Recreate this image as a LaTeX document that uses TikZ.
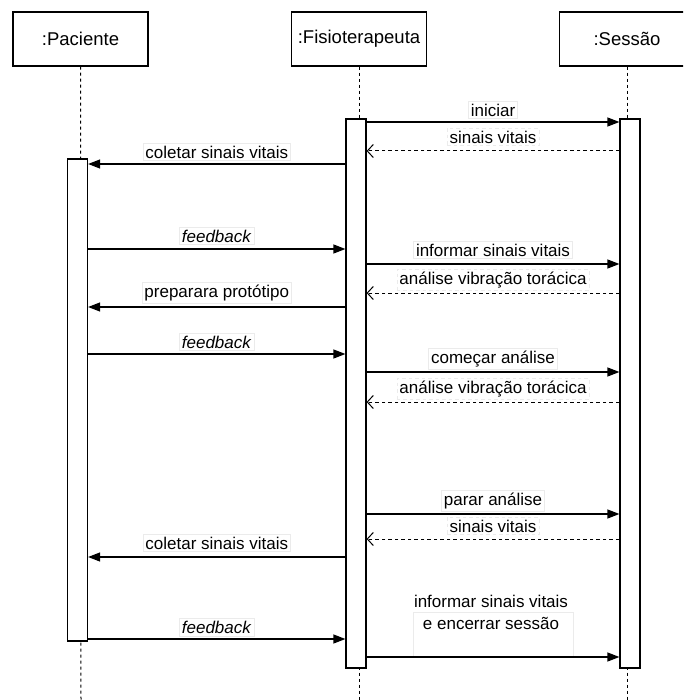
\documentclass[tikz,border=0pt]{standalone}
\usepackage{fontspec}
\setmainfont{Liberation Sans}
\usetikzlibrary{arrows.meta}
\begin{document}
\begin{tikzpicture}[x=1pt,y=-1pt,
  head/.style={draw, line width=1.2pt, minimum width=135pt, minimum height=54pt, inner sep=0pt, font=\fontsize{18.5}{22}\selectfont},
  bar/.style={draw, fill=white, line width=1.2pt, minimum width=20pt, inner sep=0pt},
  life/.style={line width=1pt, dash pattern=on 3pt off 3pt},
  msg/.style={line width=1.2pt, -{Triangle[length=12pt,width=9pt]}},
  ret/.style={line width=1pt, dash pattern=on 3.5pt off 3pt, -{Straight Barb[length=6pt,width=13pt,line width=1pt]}},
  lab/.style={fill=white, draw=black!8, line width=0.5pt, inner sep=2.5pt, font=\fontsize{17}{20}\selectfont},
  mtext/.style={align=center, inner sep=0pt, font=\fontsize{17}{22}\selectfont}
]
\useasboundingbox (0,0) rectangle (683,700);
\clip (0,0) rectangle (683,700);
\fill[white] (0,0) rectangle (683,700);

% heads
\node[head] (pac) at (80.5,39) {:Paciente};
\node[head] (fis) at (359,39) {:Fisioterapeuta};
\node[head] (ses) at (627,39) {:Sessão};

% lifelines
\coordinate (pacend) at (81,700);
\coordinate (fisend) at (359,700);
\coordinate (sesend) at (627,700);
\draw[life] (pac.south) -- (pacend);
\draw[life] (fis.south) -- (fisend);
\draw[life] (ses.south) -- (sesend);

% activation bars
\node[bar, minimum height=482pt] (pacbar) at (77.5,400) {};
\node[bar, minimum height=549pt] (fisbar) at (356,393.5) {};
\node[bar, minimum height=549pt] (sesbar) at (630,393.5) {};

% messages
\draw[msg] (fisbar.east |- 0,122) -- node[lab, midway, yshift=12pt] {iniciar} (sesbar.west |- 0,122);
\draw[ret] (sesbar.west |- 0,151) -- node[lab, midway, yshift=14pt] {sinais vitais} (fisbar.east |- 0,151);
\draw[msg] (fisbar.west |- 0,164) -- node[lab, midway, yshift=12pt] {coletar sinais vitais} (pacbar.east |- 0,164);
\draw[msg] (pacbar.east |- 0,249) -- node[lab, midway, yshift=13pt] {\textit{feedback}} (fisbar.west |- 0,249);
\draw[msg] (fisbar.east |- 0,264) -- node[lab, midway, yshift=14pt] {informar sinais vitais} (sesbar.west |- 0,264);
\draw[ret] (sesbar.west |- 0,293) -- node[lab, midway, yshift=13pt] {análise vibração torácica} (fisbar.east |- 0,293);
\draw[msg] (fisbar.west |- 0,307) -- node[lab, midway, yshift=14pt] {preparara protótipo} (pacbar.east |- 0,307);
\draw[msg] (pacbar.east |- 0,354) -- node[lab, midway, yshift=12pt] {\textit{feedback}} (fisbar.west |- 0,354);
\draw[msg] (fisbar.east |- 0,372) -- node[lab, midway, yshift=13pt] {começar análise} (sesbar.west |- 0,372);
\draw[ret] (sesbar.west |- 0,402) -- node[lab, midway, yshift=13pt] {análise vibração torácica} (fisbar.east |- 0,402);
\draw[msg] (fisbar.east |- 0,514) -- node[lab, midway, yshift=13pt] {parar análise} (sesbar.west |- 0,514);
\draw[ret] (sesbar.west |- 0,539) -- node[lab, midway, yshift=13pt] {sinais vitais} (fisbar.east |- 0,539);
\draw[msg] (fisbar.west |- 0,557) -- node[lab, midway, yshift=14pt] {coletar sinais vitais} (pacbar.east |- 0,557);
\draw[msg] (pacbar.east |- 0,639) -- node[lab, midway, yshift=12pt] {\textit{feedback}} (fisbar.west |- 0,639);

% last message with two-line label
\node[lab, minimum width=160pt, minimum height=44pt] (lastbg) at (493,634) {};
\node[mtext] (lasttxt) at (491,612) {informar sinais vitais\\e encerrar sessão};
\draw[msg] (fisbar.east |- 0,657) -- (sesbar.west |- 0,657);
\end{tikzpicture}
\end{document}
